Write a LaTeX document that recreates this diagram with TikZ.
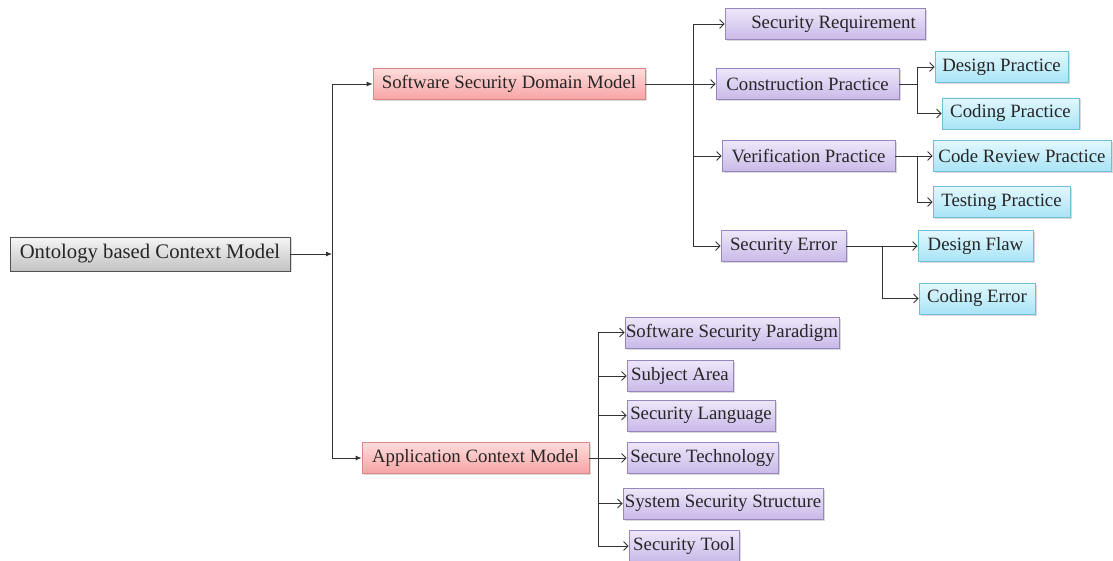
\documentclass[tikz,border=0pt]{standalone}
\usepackage{fontspec}
\setmainfont{Liberation Serif}
\usetikzlibrary{arrows.meta,shadows}
\definecolor{rootTop}{HTML}{F6F6F6}
\definecolor{rootBot}{HTML}{C2C2C2}
\definecolor{rootLine}{HTML}{505050}
\definecolor{modelTop}{HTML}{FFDCDC}
\definecolor{modelBot}{HTML}{F7A4A4}
\definecolor{modelLine}{HTML}{D88888}
\definecolor{partTop}{HTML}{EEE7FA}
\definecolor{partBot}{HTML}{C9B9E8}
\definecolor{partLine}{HTML}{9886BE}
\definecolor{leafTop}{HTML}{E2F8FE}
\definecolor{leafBot}{HTML}{A8E4F6}
\definecolor{leafLine}{HTML}{70BFD6}

\begin{document}
\begin{tikzpicture}[x=1pt, y=-1pt,
    box/.style={rectangle, minimum height=31pt, inner sep=0pt, line width=0.8pt,
      font=\fontsize{18.8}{22}\selectfont, text=black!85,
      drop shadow={shadow xshift=1.5pt, shadow yshift=-1.5pt, opacity=0.3}},
    root/.style={box, draw=rootLine, top color=rootTop, bottom color=rootBot},
    model/.style={box, draw=modelLine, top color=modelTop, bottom color=modelBot},
    part/.style={box, draw=partLine, top color=partTop, bottom color=partBot},
    leaf/.style={box, draw=leafLine, top color=leafTop, bottom color=leafBot},
    line/.style={draw=black!80, line width=0.8pt},
    lead/.style={line, -{Latex[length=6pt, width=5pt]}},
    open/.style={line, -{Straight Barb[length=4.5pt, width=9pt]}}]

    \useasboundingbox (0,0) rectangle (1113,561);

    % the root and the two models
    \node[root, minimum width=280pt, minimum height=34pt,
      font=\fontsize{20.7}{24}\selectfont] (onto) at (150,254) {Ontology based Context Model};
    \node[model, minimum width=272pt] (ssdm) at (509,84) {Software Security Domain Model};
    \node[model, minimum width=227pt] (acm) at (475.5,458) {Application Context Model};

    % domain model parts
    \node[part, minimum width=200pt] (sreq) at (825,24) {\hspace*{17pt}Security Requirement};
    \node[part, minimum width=183pt] (cons) at (807.5,84) {Construction Practice};
    \node[part, minimum width=173pt] (veri) at (808.5,156) {Verification Practice};
    \node[part, minimum width=125pt] (serr) at (783.5,246) {Security Error};

    % practices and errors
    \node[leaf, minimum width=133pt] (dprac) at (1001.5,67) {Design Practice};
    \node[leaf, minimum width=137pt] (cprac) at (1010.5,113.5) {Coding Practice};
    \node[leaf, minimum width=178pt] (crev) at (1022,156) {Code Review Practice};
    \node[leaf, minimum width=137pt] (tprac) at (1001.5,202) {Testing Practice};
    \node[leaf, minimum width=115pt] (dflaw) at (975.5,246) {Design Flaw};
    \node[leaf, minimum width=116pt] (cerr) at (977,298.5) {Coding Error};

    % application context parts
    \node[part, minimum width=214pt] (sspar) at (732,332.5) {Software Security Paradigm};
    \node[part, minimum width=106pt] (sarea) at (680,376) {Subject Area};
    \node[part, minimum width=148pt] (slang) at (701,415.5) {Security Language};
    \node[part, minimum width=151pt] (stech) at (702.5,458) {Secure Technology};
    \node[part, minimum width=200pt] (sstruc) at (723,503.5) {System Security Structure};
    \node[part, minimum width=110pt] (stool) at (684,546) {Security Tool};

    % branch points
    \coordinate (trunk) at (332,254);
    \coordinate (dbr) at (693,84);
    \coordinate (cbr) at (917,84);
    \coordinate (vbr) at (917,156);
    \coordinate (ebr) at (882,246);
    \coordinate (abr) at (598,458);

    % draw the connectors
    \draw[lead] (onto) -- (trunk);
    \draw[lead] (trunk) |- (ssdm);
    \draw[lead] (trunk) |- (acm);

    \draw[open] (ssdm) -- (cons);
    \draw[open] (dbr) |- (sreq);
    \draw[open] (dbr) |- (veri);
    \draw[open] (dbr) |- (serr);

    \draw[line] (cons) -- (cbr);
    \draw[open] (cbr) |- (dprac);
    \draw[open] (cbr) |- (cprac);
    \draw[open] (veri) -- (crev);
    \draw[open] (vbr) |- (tprac);
    \draw[open] (serr) -- (dflaw);
    \draw[open] (ebr) |- (cerr);

    \draw[open] (acm) -- (stech);
    \foreach \t in {sspar,sarea,slang,sstruc,stool}
      \draw[open] (abr) |- (\t);
  \end{tikzpicture}
\end{document}
